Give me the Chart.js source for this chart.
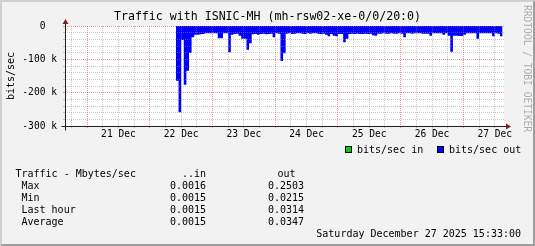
<!DOCTYPE html>
<html>
<head>
<meta charset="utf-8">
<script src="https://cdn.jsdelivr.net/npm/chart.js@4/dist/chart.umd.min.js"></script>
<style>
  html, body { margin: 0; padding: 0; background: #f2f2f2; }
  canvas { display: block; }
</style>
</head>
<body>
<canvas id="grafo" width="535" height="246"></canvas>
<script>
// --- datos del grafico (rrdtool, 7 dias) ---
const TITULO = 'Traffic with ISNIC-MH (mh-rsw02-xe-0/0/20:0)';
const dayLabels = ['21 Dec', '22 Dec', '23 Dec', '24 Dec', '25 Dec', '26 Dec', '27 Dec'];
const yLabelTicks = [-300, -200, -100, 0];   // k bits/sec

// horas contadas desde 21 Dec 00:00
const viewStartHour = -8.45;   // 20 Dec 15:33
const viewEndHour = 159.55;    // 27 Dec 15:33

// salida (kbit/s), una muestra por hora desde 22 Dec 10:00
const outStartHour = 34;
const outKbps = [
  164, 259, 42, 176, 134, 80, 34, 26, 26, 25,
  24, 22, 22, 22, 22, 22, 37, 37, 22, 22,
  79, 26, 24, 23, 29, 38, 38, 71, 52, 25,
  24, 26, 24, 23, 25, 24, 23, 34, 22, 23,
  105, 82, 23, 22, 24, 23, 22, 22, 23, 24,
  22, 23, 22, 22, 23, 24, 23, 26, 31, 24,
  29, 31, 24, 24, 49, 38, 24, 23, 24, 23,
  24, 24, 23, 24, 23, 28, 29, 23, 23, 22,
  23, 23, 22, 23, 23, 22, 23, 34, 22, 22,
  23, 22, 22, 22, 23, 23, 23, 29, 22, 22,
  22, 22, 26, 22, 29, 77, 29, 29, 30, 30,
  26, 22, 22, 22, 22, 38, 22, 22, 22, 22,
  22, 31, 22, 23, 31
];

// entrada (kbit/s): muy baja, queda por encima de 0 y no se ve
const inHours = [34, 70, 106, 142, 159];
const inKbps = [1.6, 1.5, 1.5, 1.5, 1.5];

const seriesNames = ['bits/sec in', 'bits/sec out'];
const seriesColors = ['#00CC00', '#0000FF'];

const statHeader = 'Traffic - Mbytes/sec';
const statNames = ['Max', 'Min', 'Last hour', 'Average'];
const statIn = ['0.0016', '0.0015', '0.0015', '0.0015'];
const statOut = ['0.2503', '0.0215', '0.0314', '0.0347'];
const stamp = 'Saturday December 27 2025 15:33:00';

// --- estilos ---
const FONT = "'DejaVu Sans Mono', monospace";
const MGRID = 'rgba(222,79,79,0.6)';
const GRID = 'rgba(143,143,143,0.5)';

const outPts = outKbps.map((v, i) => ({ x: outStartHour + i, y: -v }));
outPts.push({ x: outStartHour + outKbps.length, y: -outKbps[outKbps.length - 1] });
const inPts = inHours.map((h, i) => ({ x: h, y: inKbps[i] }));

function poly(ctx, pts, color) {
  ctx.fillStyle = color;
  ctx.beginPath();
  ctx.moveTo(pts[0][0], pts[0][1]);
  pts.slice(1).forEach(p => ctx.lineTo(p[0], p[1]));
  ctx.closePath();
  ctx.fill();
}

const rrdFrame = {
  id: 'rrdFrame',
  beforeDraw(chart) {
    const { ctx, chartArea: a, width: W, height: H } = chart;
    ctx.save();
    ctx.fillStyle = '#f2f2f2';
    ctx.fillRect(0, 0, W, H);
    poly(ctx, [[0, H], [2, H - 2], [2, 2], [W - 2, 2], [W, 0], [0, 0]], '#cfcfcf');
    poly(ctx, [[2, H - 2], [W - 2, H - 2], [W - 2, 2], [W, 0], [W, H], [0, H]], '#9e9e9e');
    ctx.fillStyle = '#ffffff';
    ctx.fillRect(a.left, a.top, a.right - a.left, a.bottom - a.top);
    ctx.restore();
  },
  afterDraw(chart) {
    const { ctx, chartArea: a, width: W } = chart;
    const L = Math.round(a.left) + 0.5, B = Math.round(a.bottom) + 0.5;
    const R = a.right, T = a.top;
    ctx.save();
    // ejes
    ctx.strokeStyle = '#1f1f1f';
    ctx.lineWidth = 1;
    ctx.beginPath();
    ctx.moveTo(L - 4, B); ctx.lineTo(R + 4, B);
    ctx.moveTo(L, B + 4); ctx.lineTo(L, T - 4);
    ctx.stroke();
    poly(ctx, [[R + 2, B - 3], [R + 2, B + 3], [R + 7, B]], '#801f1f');
    poly(ctx, [[L - 3, T - 2], [L + 3, T - 2], [L, T - 7]], '#801f1f');

    // titulo
    ctx.fillStyle = '#000';
    ctx.font = '11.6px ' + FONT;
    ctx.textAlign = 'center';
    ctx.textBaseline = 'middle';
    ctx.fillText(TITULO, W / 2, 17);

    // marca de agua vertical
    ctx.save();
    ctx.translate(526, 5);
    ctx.rotate(Math.PI / 2);
    ctx.font = '9.6px ' + FONT;
    ctx.textAlign = 'left';
    ctx.fillStyle = 'rgba(0,0,0,0.3)';
    ctx.fillText('RRDTOOL / TOBI OETIKER', 0, 0);
    ctx.restore();

    // leyenda
    ctx.font = '10px ' + FONT;
    ctx.textAlign = 'left';
    const legendX = [345, 437];
    seriesNames.forEach((name, i) => {
      ctx.fillStyle = seriesColors[i];
      ctx.fillRect(legendX[i], 146, 7, 7);
      ctx.strokeStyle = '#000';
      ctx.strokeRect(legendX[i] + 0.5, 146.5, 6, 6);
      ctx.fillStyle = '#000';
      ctx.fillText(name, legendX[i] + 12, 150);
    });

    // tabla de estadisticas
    ctx.fillText(statHeader, 15.5, 174);
    ctx.textAlign = 'right';
    ctx.fillText('..in', 206, 174);
    ctx.textAlign = 'center';
    ctx.fillText('out', 286.5, 174);
    statNames.forEach((n, i) => {
      const y = 186 + i * 12;
      ctx.textAlign = 'left';
      ctx.fillText(n, 21.5, y);
      ctx.textAlign = 'right';
      ctx.fillText(statIn[i], 206, y);
      ctx.fillText(statOut[i], 304, y);
    });
    ctx.textAlign = 'right';
    ctx.fillText(stamp, 521, 234);
    ctx.restore();
  }
};

function gridColor(c) {
  if (!c.tick) return GRID;
  const v = c.tick.value;
  const major = c.scale.axis === 'y' ? yLabelTicks.includes(v) : v % 24 === 0;
  return major ? MGRID : GRID;
}

new Chart(document.getElementById('grafo').getContext('2d'), {
  type: 'line',
  data: {
    datasets: [
      { label: seriesNames[0], data: inPts, stepped: true, fill: 'origin',
        backgroundColor: seriesColors[0], borderColor: 'rgba(0,0,0,0)', borderWidth: 0, pointRadius: 0 },
      { label: seriesNames[1], data: outPts, stepped: true, fill: 'origin',
        backgroundColor: seriesColors[1], borderColor: 'rgba(0,0,0,0)', borderWidth: 0, pointRadius: 0 }
    ]
  },
  options: {
    responsive: false,
    devicePixelRatio: 1,
    animation: false,
    events: [],
    layout: { padding: { top: 26, right: 31, left: 0, bottom: 0 } },
    plugins: { legend: { display: false }, tooltip: { enabled: false }, title: { display: false } },
    scales: {
      x: {
        type: 'linear',
        min: viewStartHour,
        max: viewEndHour,
        afterBuildTicks: s => {
          s.ticks = [];
          for (let h = -6; h <= 156; h += 6) s.ticks.push({ value: h });
        },
        afterFit: s => { s.height = 120; },
        ticks: {
          autoSkip: false, maxRotation: 0, minRotation: 0, padding: 1.2,
          color: '#000', font: { family: FONT, size: 9.6 },
          callback: v => (v % 24 === 12) ? dayLabels[(v - 12) / 24] : ''
        },
        grid: { z: 1, color: gridColor, lineWidth: 1, tickLength: 2 },
        border: { display: false, dash: [1, 1] }
      },
      y: {
        min: -300,
        max: 0,
        afterBuildTicks: s => {
          s.ticks = [];
          for (let v = -300; v <= 0; v += 20) s.ticks.push({ value: v });
        },
        afterFit: s => { s.width = 65; },
        ticks: {
          autoSkip: false, padding: 6,
          color: '#000', font: { family: FONT, size: 9.6 },
          callback: v => yLabelTicks.includes(v) ? (v === 0 ? '0  ' : v + ' k') : ''
        },
        grid: { z: 1, color: gridColor, lineWidth: 1, tickLength: 2 },
        border: { display: false, dash: [1, 1] },
        title: { display: true, text: 'bits/sec', color: '#000',
                 font: { family: FONT, size: 10 }, padding: { top: 5, bottom: 0 } }
      }
    }
  },
  plugins: [rrdFrame]
});
</script>
</body>
</html>
